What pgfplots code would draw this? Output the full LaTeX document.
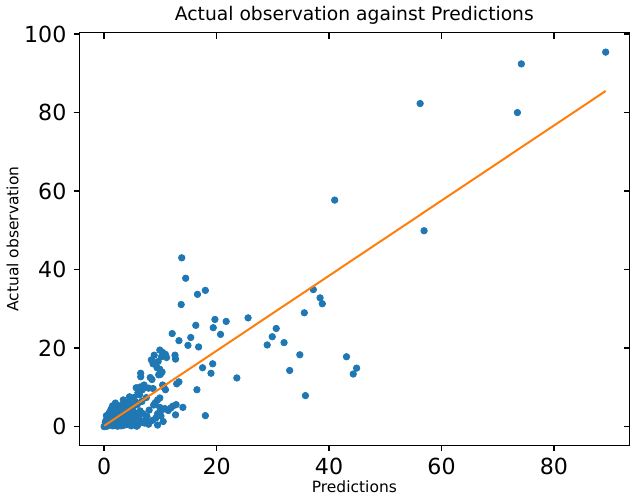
\documentclass[border=0pt]{standalone}
\usepackage{fontspec}
\setmainfont{DejaVu Sans}
\usepackage{pgfplots}
\pgfplotsset{compat=1.18}
\definecolor{mplblue}{HTML}{1F77B4}
\definecolor{mplorange}{HTML}{FF7F0E}

\pgfplotstableread{
x y
89.2 95.4
74.2 92.4
56.2 82.3
73.5 80.0
56.9 49.9
41.0 57.7
37.2 34.9
38.4 32.8
38.8 31.3
35.6 29.0
25.6 27.7
30.6 25.0
29.9 22.9
29.0 20.8
32.0 21.4
34.8 18.3
33.0 14.3
35.8 7.9
43.1 17.8
44.9 14.9
44.3 13.4
13.8 43.0
14.5 37.8
16.6 33.7
18.0 34.7
13.7 31.1
19.7 27.3
21.7 26.8
16.3 25.8
19.4 25.2
20.7 23.5
12.1 23.7
13.3 21.9
15.4 22.7
14.9 20.7
16.8 20.3
23.6 12.4
17.5 15.0
19.3 16.0
19.0 13.6
16.5 9.4
18.0 2.8
12.7 3.0
14.0 4.9
12.8 5.6
10.5 1.3
8.6 1.6
6.5 1.1
5.0 0.5
9.9 19.5
10.4 18.9
10.9 18.4
10.2 17.8
12.6 18.2
12.7 17.2
8.9 18.2
8.4 17.0
11.1 17.6
9.6 16.6
8.7 16.0
9.4 15.0
9.9 14.6
10.3 13.9
9.7 13.2
8.2 12.5
8.5 12.0
10.0 13.3
6.5 13.6
6.5 12.7
6.4 10.1
7.1 10.6
7.9 9.8
6.8 9.4
5.7 9.9
8.7 9.7
10.6 10.1
10.4 10.6
10.9 9.4
12.9 10.9
13.3 11.4
6.0 8.6
6.3 8.1
9.5 6.8
9.1 6.1
9.9 7.3
3.4 6.8
3.8 6.2
4.4 6.4
6.7 6.4
10.3 4.3
9.9 4.9
10.8 4.6
11.4 4.1
11.9 4.8
12.2 5.2
7.5 7.4
5.3 7.4
4.5 7.6
8.8 5.5
8.0 4.2
9.5 3.3
9.2 2.2
10.1 2.7
7.4 1.9
7.9 0.6
6.1 2.4
9.5 0.4
0.1 0.2
0.3 0.6
0.5 0.1
0.7 1.2
0.9 0.4
1.0 2.1
1.2 0.8
1.3 1.6
1.5 0.2
1.6 2.9
1.8 1.1
1.9 3.8
2.0 0.5
2.1 2.4
2.3 1.5
2.4 0.1
2.5 4.6
2.6 3.1
2.8 0.9
2.9 2.0
3.0 5.4
3.1 1.3
3.3 3.6
3.4 0.3
3.5 2.6
3.6 4.2
3.8 1.8
3.9 0.6
4.0 3.0
4.2 5.0
4.3 1.0
4.5 2.3
4.6 3.8
4.8 0.2
4.9 1.6
5.1 4.5
5.2 2.7
5.4 0.8
5.5 3.4
5.7 1.9
5.9 5.6
6.0 0.4
6.2 2.9
6.4 4.0
6.6 1.4
6.9 3.3
7.2 0.9
7.6 2.6
0.2 1.0
0.6 0.9
0.8 2.6
1.1 3.3
1.4 0.6
1.7 1.9
2.2 3.4
2.7 2.2
3.2 0.8
3.7 3.0
4.1 2.0
4.4 4.4
1.2 4.4
1.5 5.3
2.0 6.0
0.4 2.8
0.9 3.5
1.4 4.0
2.6 5.2
3.5 5.8
4.7 5.4
5.6 6.3
0.0 0.0
0.3 1.5
1.0 1.2
1.8 0.3
2.4 1.1
3.0 0.2
4.0 0.5
5.0 1.0
5.8 0.1
}\obsdata

\begin{document}
\begin{tikzpicture}
\pgfplotsset{
  base/.style={
    scale only axis,
    width=273.5pt, height=205pt,
    xmin=-4.45, xmax=93.45,
    ymin=-4.8, ymax=100.3,
    xtick={0,20,...,80},
    ytick={0,20,...,100},
    axis line style={line width=0.6pt},
    major tick length=2.8pt,
  }
}
\begin{axis}[
  base,
  clip mode=individual,
  tick align=outside,
  xtick pos=left, ytick pos=left,
  every tick/.style={black, line width=0.7pt},
  ticklabel style={font=\fontsize{11}{13}\selectfont},
  /pgf/number format/assume math mode=true,
  every axis title shift=0pt,
  title={Actual observation against Predictions},
  title style={font=\fontsize{9.3}{11}\selectfont, at={(axis description cs:0.5,1.0415)}, anchor=center},
  xlabel={Predictions},
  xlabel style={font=\fontsize{7.7}{9}\selectfont, at={(axis description cs:0.5,-0.1)}, anchor=center},
  ylabel={Actual observation},
  ylabel style={font=\fontsize{7.7}{9}\selectfont, at={(axis description cs:-0.1207,0.5)}, anchor=center},
]
\addplot[only marks, mark=*, mark size=1.6pt, mark options={draw=mplblue, fill=mplblue}] table[x=x, y=y] {\obsdata};
\addplot[mplorange, line width=1pt] coordinates {(0.0,0.2) (89.2,85.5)};
\end{axis}
\begin{axis}[
  base,
  tick align=inside,
  xtick pos=right, ytick pos=right,
  every tick/.style={black, line width=0.7pt},
  xticklabels={}, yticklabels={},
  ticklabel style={inner sep=0pt, font=\tiny},
]
\end{axis}
\end{tikzpicture}
\end{document}
